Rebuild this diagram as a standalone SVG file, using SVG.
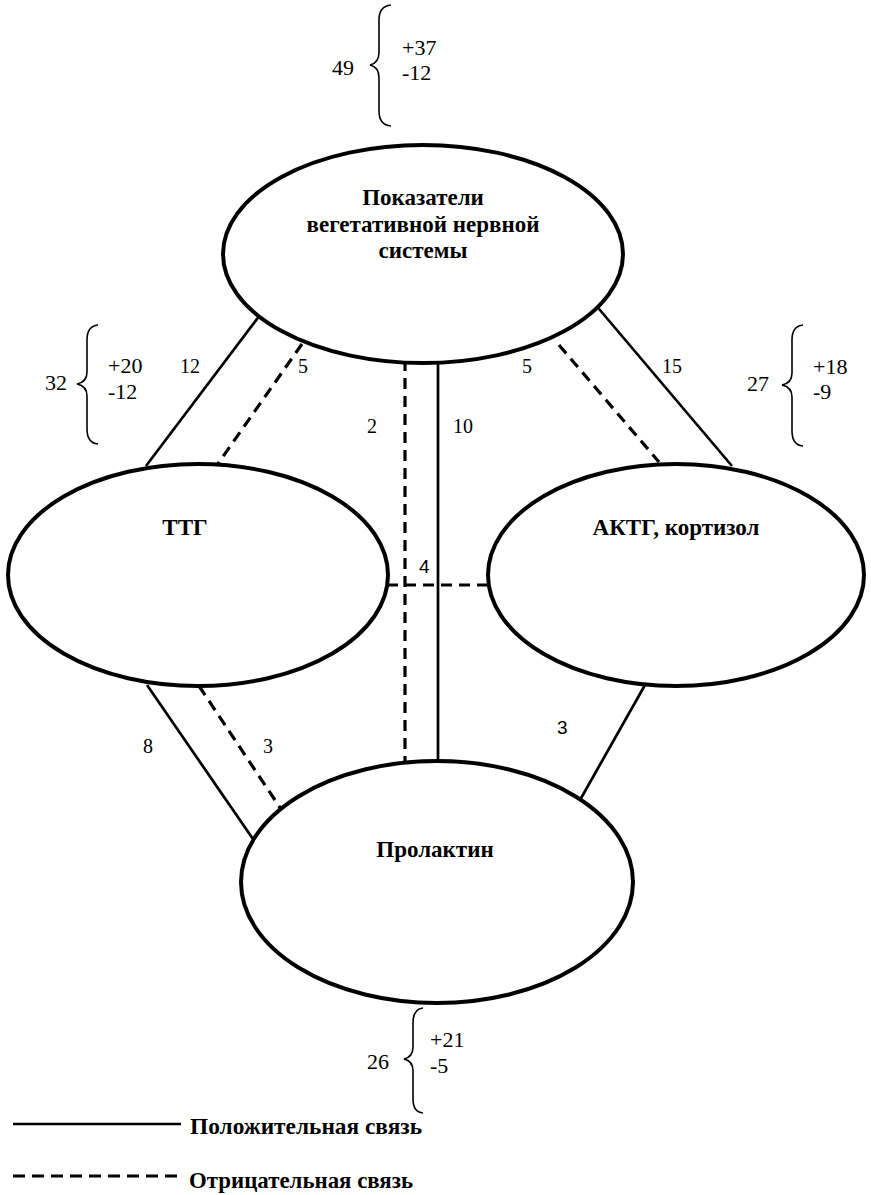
<svg xmlns="http://www.w3.org/2000/svg" width="871" height="1195" viewBox="0 0 871 1195">
<style>
.node{fill:#fff;stroke:#000;stroke-width:4}
.lbl{font-family:"Liberation Serif","Times New Roman",serif;font-weight:bold;font-size:23px;text-anchor:middle;fill:#000}
.num{font-family:"Liberation Serif","Times New Roman",serif;font-size:20px;fill:#000}
.big{font-family:"Liberation Serif","Times New Roman",serif;font-size:22px;fill:#000}
.sans{font-family:"Liberation Sans",Arial,sans-serif;font-size:19px;fill:#000}
.pos{stroke:#000;stroke-width:2.7;fill:none}
.neg{stroke:#000;stroke-width:3.2;fill:none;stroke-dasharray:11,7}
.brace{stroke:#000;stroke-width:1.6;fill:none}
.leg{font-family:"Liberation Serif","Times New Roman",serif;font-weight:bold;font-size:23.5px;fill:#000}
</style>
<rect width="871" height="1195" fill="#fff"/>
<g id="connectors">
<line class="pos" x1="260" y1="315" x2="146" y2="466"/>
<line class="neg" x1="302" y1="344" x2="217" y2="465"/>
<line class="neg" x1="405" y1="360" x2="405" y2="762"/>
<line class="pos" x1="438" y1="360" x2="438" y2="765"/>
<line class="neg" x1="559" y1="345" x2="659" y2="462"/>
<line class="pos" x1="594" y1="303" x2="732" y2="466"/>
<line class="neg" x1="387" y1="585" x2="487" y2="585"/>
<line class="pos" x1="147" y1="685" x2="255" y2="842"/>
<line class="neg" x1="199" y1="686" x2="283" y2="812"/>
<line class="pos" x1="645" y1="685" x2="580" y2="800"/>
<text class="num" x="180" y="373">12</text>
<text class="num" x="298" y="373">5</text>
<text class="num" x="367" y="433">2</text>
<text class="num" x="453" y="433">10</text>
<text class="num" x="522" y="373">5</text>
<text class="num" x="662" y="373">15</text>
<text class="sans" x="419" y="573">4</text>
<text class="num" x="143" y="753">8</text>
<text class="num" x="263" y="753">3</text>
<text class="sans" x="557" y="734">3</text>
</g>
<g id="node-vns">
<ellipse class="node" cx="423" cy="254" rx="200" ry="109"/>
<text class="lbl" x="423" y="205">Показатели</text>
<text class="lbl" x="423" y="232">вегетативной нервной</text>
<text class="lbl" x="423" y="258">системы</text>
</g>
<g id="node-ttg">
<ellipse class="node" cx="198" cy="575" rx="190" ry="111"/>
<text class="lbl" x="185" y="535">ТТГ</text>
</g>
<g id="node-acth">
<ellipse class="node" cx="676" cy="575" rx="188" ry="111"/>
<text class="lbl" x="676" y="535">АКТГ, кортизол</text>
</g>
<g id="node-prl">
<ellipse class="node" cx="437" cy="882" rx="196" ry="121"/>
<text class="lbl" x="435" y="857">Пролактин</text>
</g>
<g id="stat-top">
<text class="big" x="332" y="75">49</text>
<path class="brace" d="M391,5 Q379,6 379,20 L379,52 Q379,63 370,65 Q379,67 379,78 L379,111 Q379,125 391,126"/>
<text class="big" x="402" y="55">+37</text>
<text class="big" x="402" y="80">-12</text>
</g>
<g id="stat-left">
<text class="big" x="45" y="390">32</text>
<path class="brace" d="M98,325 Q87,326 87,340 L87,372 Q87,382 77,384 Q87,386 87,396 L87,429 Q87,443 98,444"/>
<text class="big" x="108" y="373">+20</text>
<text class="big" x="108" y="399">-12</text>
</g>
<g id="stat-right">
<text class="big" x="747" y="391">27</text>
<path class="brace" d="M803,325 Q792,326 792,340 L792,373 Q792,383 782,385 Q792,387 792,397 L792,431 Q792,445 803,446"/>
<text class="big" x="813" y="374">+18</text>
<text class="big" x="813" y="399">-9</text>
</g>
<g id="stat-bottom">
<text class="big" x="367" y="1069">26</text>
<path class="brace" d="M423,1008 Q413,1009 413,1023 L413,1047 Q413,1057 404,1059 Q413,1061 413,1071 L413,1099 Q413,1112 423,1113"/>
<text class="big" x="430" y="1047">+21</text>
<text class="big" x="430" y="1073">-5</text>
</g>
<g id="legend">
<line class="pos" x1="13" y1="1124" x2="181" y2="1124"/>
<text class="leg" x="190" y="1134" textLength="232" lengthAdjust="spacingAndGlyphs">Положительная связь</text>
<line class="neg" x1="13" y1="1176" x2="181" y2="1176" style="stroke-dasharray:12,7"/>
<text class="leg" x="189" y="1188" textLength="224" lengthAdjust="spacingAndGlyphs">Отрицательная связь</text>
</g>
</svg>
